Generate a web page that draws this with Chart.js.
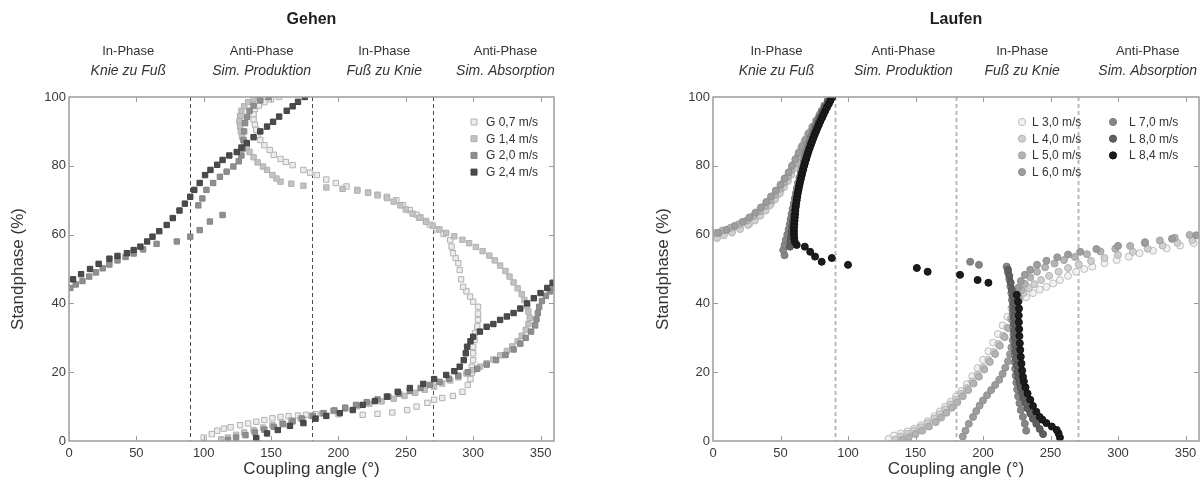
<!DOCTYPE html>
<html>
<head>
<meta charset="utf-8">
<script src="https://cdn.jsdelivr.net/npm/chart.js@4.4.0/dist/chart.umd.min.js"></script>
<style>
body{margin:0;background:#fff;}
#wrap{position:relative;width:1204px;height:492px;overflow:hidden;}
canvas{position:absolute;top:0;}
</style>
</head>
<body>
<div id="wrap">
<canvas id="gehen" width="602" height="492" style="left:0"></canvas>
<canvas id="laufen" width="602" height="492" style="left:602px"></canvas>
</div>
<script>
// achsen und phasen
var angleTicks = [0,50,100,150,200,250,300,350];
var stanceTicks = [0,20,40,60,80,100];
var phaseBorders = [90,180,270];
var phaseTop = ['In-Phase','Anti-Phase','In-Phase','Anti-Phase'];
var phaseSub = ['Knie zu Fuß','Sim. Produktion','Fuß zu Knie','Sim. Absorption'];

// Gehen: [coupling angle, standphase %]
var gehenLabels = ['G 0,7 m/s','G 1,4 m/s','G 2,0 m/s','G 2,4 m/s'];
var g07 = [[100,1],[106,2],[110,3],[115,3.6],[120,4],[127,4.6],[133,5.1],[139,5.6],[145,6.1],[151,6.6],[157,7],[163,7.2],[170,7.4],[176,7.6],[183,7.8],[200,7.8],[218,7.6],[229,7.9],[240,8.3],[251,9],[258,10],[266,11.1],[271,12],[277,12.5],[285,13.1],[292,14.3],[296,16.3],[298,18],[299,19.8],[299,21.6],[300,23.5],[300,25.5],[300,27.4],[301,29.4],[301.4,31.4],[303,33.3],[303.6,35.2],[303.6,37],[303.6,39],[300,40.5],[297.7,42],[295,43.5],[292.5,44.8],[291,47],[290,49.7],[289,51.7],[287,53.2],[285,54.6],[284,56.5],[283,58.4],[278,60.2],[273,61.5],[268,62.9],[265,64],[261,65],[258,65.8],[253,67.1],[248,68.6],[243,70],[236,71],[229,71.6],[222,72.2],[214,73],[206,74],[198,75],[191,76],[184,77.3],[179,78],[174,78.8],[166,80.2],[161,81.1],[157,82],[152,83.2],[149,84.6],[145,86],[142,87.5],[140,89],[139,90.5],[138,92],[137,93.5],[137,95],[138,96.5],[141,97.5],[145,98.5],[150,99.3],[156,100]];
var g14 = [[113,0.5],[118,1],[124,1.8],[130,2.5],[137,3.2],[144,3.9],[151,4.6],[158,5.3],[165,6],[172,6.6],[180,7.3],[188,8],[196,8.7],[205,9.4],[214,10.1],[223,10.8],[232,11.5],[241,12.3],[249,13.1],[257,14],[264,14.9],[271,15.8],[277,16.7],[283,17.6],[289,18.5],[295,19.6],[300,20.6],[305,21.6],[310,22.6],[315,23.7],[320,24.9],[325,26.2],[329,27.5],[333,29],[336,30.6],[339,32.3],[341,34],[342,35.8],[341,37.6],[340,39.3],[338,41],[336,42.7],[333,44.4],[330,46.1],[327,47.8],[324,49.4],[320,51],[316,52.5],[312,53.9],[307,55.2],[302,56.4],[297,57.5],[292,58.5],[286,59.5],[280,60.5],[275,61.5],[270,62.6],[265,63.7],[260,64.9],[255,66.1],[250,67.3],[246,68.5],[241,69.6],[236,70.6],[229,71.4],[222,72.2],[214,72.8],[203,73.3],[191,73.7],[174,74.2],[165,74.8],[157,75.4],[154,76.3],[151,77.3],[147,78.8],[144,79.8],[140,81],[137,82.5],[134,84],[132,85.5],[130,87],[128.5,88.5],[127.5,90],[127,91.5],[126.5,93],[127,94.5],[128,96],[130,97.3],[133,98.5],[137,99.5],[141,100]];
var g20 = [[118,0.3],[124,1],[131,1.7],[138,2.5],[145,3.3],[152,4.1],[159,4.9],[166,5.7],[173,6.5],[181,7.3],[189,8.1],[197,8.9],[205,9.7],[213,10.5],[221,11.3],[229,12.1],[237,12.9],[245,13.7],[253,14.5],[261,15.4],[268,16.3],[275,17.2],[282,18.1],[289,19],[296,20],[303,21],[310,22.2],[317,23.5],[324,25],[330,26.6],[335,28.3],[339,30],[343,31.8],[346,33.6],[347,35.4],[348,37.2],[349,39],[351,40.7],[354,42.2],[357,43.5],[360,44.5],[1,44.5],[5,45.5],[10,46.5],[15,47.8],[20,49],[25,50.2],[30,51.3],[36,52.5],[42,53.5],[48,54.5],[55,55.7],[65,57.3],[80,58],[90,59.4],[97,61.3],[104.6,63.8],[114,65.7],[96,68.5],[99,70.5],[102,73],[107,75],[112,76.8],[117,78.3],[122,79.8],[126,81.3],[128,83],[129,85],[129.5,87.5],[130,90],[130.7,92.4],[132,94.2],[134,96],[137,97.5],[142,99],[148,100]];
var g24 = [[139,0.8],[147,2.2],[155,3.2],[164,4.4],[174,5.2],[183,6.5],[191,7.3],[201,8.1],[210.6,9],[218,10.5],[227,11.6],[236,12.9],[244,14.3],[253,15.4],[263,16.6],[271,18],[280,19.2],[286,20.3],[290,21.6],[293,23.5],[294.5,25.5],[295.5,27.4],[298,29],[300,30.3],[305,31.8],[310,33.2],[315,34],[320,35.2],[325,36.2],[330,37.2],[335,38.5],[340,40],[345,41.5],[350,43],[355,44.5],[359,46],[3,47],[9,48.5],[15.6,50],[22,51.5],[30,53],[36,53.8],[43,54.6],[48,55.5],[53,56.5],[58,58],[62,59.4],[67,61],[72.5,62.8],[77,64.8],[82,67],[86,69],[90,71],[93,73],[97,75],[101,77.3],[105,78.8],[110,80.3],[114,81.7],[119,83],[124.5,84],[128,85.3],[132,86.6],[137,88.3],[142,90],[147,91.4],[151.5,92.8],[156,94.3],[161.6,96],[166,97.3],[170,98.6],[175,100]];

// Laufen
var laufenLabels = ['L 3,0 m/s','L 4,0 m/s','L 5,0 m/s','L 6,0 m/s','L 7,0 m/s','L 8,0 m/s','L 8,4 m/s'];
var l30 = [[130,0.6],[134,1.6],[139,2.2],[144,2.8],[149,3.6],[154,4.6],[159,5.8],[164,7.2],[168,8.6],[172,10],[176,11.4],[180,12.9],[184,14.5],[188,16.5],[192,18.8],[196,21.2],[200,23.6],[204,26.1],[207.5,28.6],[211,31.1],[214.5,33.6],[218,36.1],[221,38.5],[224,40.2],[227,40.8],[232,41.8],[237,43],[242,44],[247,44.8],[252,45.8],[257,46.8],[263,48],[269,49.2],[275,50],[281,50.7],[290,51.7],[299,52.6],[308,53.6],[316,54.6],[326,55.3],[336,56],[346,56.8],[356,57.5],[2,59.5],[8,60.4],[14,61],[20,62],[27,63.2],[31,64.5],[34.5,65.8],[37.5,67],[40,68],[43.5,69.5],[46.5,71],[50,73],[53,75],[55.8,77],[58.5,79],[61,81],[63,83],[65,85],[67.5,87],[70,89],[73,91],[76,93],[79,95],[82.5,97],[85.5,98.5],[88,100]];
var l40 = [[135,0.4],[139,1.3],[144,2.1],[149,3],[154,4],[159,5.2],[164,6.5],[168,7.8],[172,9.2],[176,10.6],[180,12.1],[184,13.7],[188,15.4],[192,17.3],[196,19.3],[200,21.4],[204,23.6],[208,25.9],[211.5,28.2],[215,30.6],[218,33],[220.5,35.5],[222.5,38],[224.5,40],[227,41.5],[230,43],[234,44.4],[238,45.6],[243,46.8],[249,48],[256,49.2],[263,50.3],[271,51.3],[280,52.3],[290,53.2],[300,54.1],[311,55],[322,55.9],[333,56.8],[344,57.6],[355,58.4],[3,59],[8,59.8],[14,60.6],[20,61.6],[26,62.8],[31,64.1],[35,65.5],[39,67],[42.5,68.6],[46,70.3],[49.5,72],[52.5,73.8],[55.5,75.6],[58,77.5],[60.5,79.4],[63,81.3],[65.5,83.2],[68,85.1],[70.5,87],[73,89],[75.5,91],[78,93],[81,95],[84,97],[86.5,98.6],[88,100]];
var l50 = [[140,0.3],[145,1.1],[150,2],[155,3],[160,4.2],[165,5.5],[169,6.8],[173,8.2],[177,9.7],[181,11.3],[185,13],[189,14.8],[193,16.7],[197,18.7],[201,20.8],[205,23],[209,25.3],[212.5,27.7],[216,30.2],[219,32.8],[221.5,35.4],[223.5,38],[225,40.3],[226.5,42],[228.5,43.8],[231,45.7],[235,47.6],[240,49.2],[246,50.5],[253,51.6],[260,52.6],[268,53.5],[277,54.3],[287,55.1],[298,55.9],[309,56.7],[320,57.5],[331,58.3],[342,59.1],[353,59.9],[2,60.5],[7,61.2],[13,62],[19,63],[25,64.1],[30,65.4],[34.5,66.8],[38.5,68.3],[42.5,69.9],[46,71.6],[49.5,73.3],[52.5,75.1],[55.5,76.9],[58,78.8],[60.5,80.7],[63,82.6],[65.5,84.5],[68,86.4],[70.5,88.3],[73,90.2],[76,92.1],[79,94],[82,96],[85,98],[88,100]];
var l60 = [[185,1.3],[187,3],[189.5,5],[192.6,7],[195,8.7],[197.5,10.3],[200,11.8],[203,13.3],[206,14.8],[209,16.3],[212,17.8],[214.5,19.5],[216.5,21.3],[218.5,23.2],[220,25.2],[221,27.2],[222,29.3],[223,31.4],[223.5,33.5],[224,35.6],[224,37.7],[224,39.8],[225,42],[226,44.5],[228,46.5],[231,48.3],[235,49.8],[240,51.2],[247,52.4],[255,53.4],[263,54.2],[272,55],[284,55.8],[300,56.7],[320,57.8],[340,58.8],[358,59.8],[4,60.5],[10,61.4],[16,62.5],[22,63.7],[27,65],[31.5,66.4],[35.5,67.9],[39.5,69.5],[43,71.1],[46.5,72.8],[50,74.5],[53,76.3],[56,78.1],[58.5,80],[61,81.9],[63.5,83.8],[66,85.7],[68.5,87.6],[71,89.5],[74,91.4],[77,93.3],[80,95.2],[83,97.1],[86,98.8],[88,100]];
var l70 = [[232,3],[231,5],[229.5,7],[228,9],[227,11],[226,13],[225.3,15],[224.7,17],[224.2,19],[223.8,21],[223.5,23],[223.2,25],[223,27],[222.8,29],[222.6,31],[222.4,33],[222.2,35],[222,37],[221.8,39],[221.5,41],[221,43],[220.3,45],[219.5,47],[218.5,49],[217.5,50.7],[197,51.2],[190.5,52.1],[53,54],[52,55.5],[53,57],[54,58.5],[55,60],[56,61.5],[56.8,63],[57.5,64.5],[58.2,66],[59,67.5],[59.8,69],[60.6,70.5],[61.4,72],[62.2,73.5],[63,75],[64,76.5],[65,78],[66,79.5],[67,81],[68,82.5],[69,84],[70.2,85.5],[71.4,87],[72.6,88.5],[74,90],[75.5,91.5],[77,93],[78.7,94.5],[80.5,96],[82.5,97.5],[85,99],[87.5,100]];
var l80 = [[244.5,2],[242,3.5],[239.5,5],[237,6.5],[235,8],[233,9.5],[231.5,11],[230,12.5],[229,14],[228,15.5],[227,17],[226.3,18.5],[225.6,20],[225,22],[224.5,24],[224,26],[223.7,28],[223.4,30],[223.2,32],[223,34],[222.8,36],[222.6,38],[222.4,40],[222,42],[221.3,44],[220.5,46],[219.5,48],[218.5,49.8],[57,56.5],[57.4,58],[57.8,59.5],[58.2,61],[58.7,62.5],[59.2,64],[59.8,65.5],[60.4,67],[61,68.5],[61.7,70],[62.4,71.5],[63.2,73],[64,74.5],[64.9,76],[65.8,77.5],[66.8,79],[67.8,80.5],[68.9,82],[70,83.5],[71.2,85],[72.4,86.5],[73.7,88],[75,89.5],[76.4,91],[77.9,92.5],[79.5,94],[81.2,95.5],[83,97],[85,98.5],[87.5,100]];
var l84 = [[257,1],[256,2.2],[254.6,3.2],[251,4.2],[247,5.2],[244,6.2],[242,7],[239.5,8.5],[237,10.2],[235,12],[233,13.8],[231.5,15.6],[230.3,17.3],[229.6,18.7],[229,20.5],[228.5,22.5],[228,24.5],[227.6,26.5],[227.3,28.4],[227,30.5],[226.8,32.5],[226.6,34.5],[226.5,36.5],[226.7,38.5],[226,40.5],[225,42.5],[204,46],[196,46.8],[183,48.3],[159,49.2],[151,50.3],[100,51.2],[88,53.2],[80.5,52.1],[75.6,53.6],[72,55],[68,56.5],[62,57],[60.5,58],[60.2,59],[60,60],[60,61],[60,62],[60.2,63],[60.4,64],[60.6,65],[60.8,66],[61,67],[61.3,68],[61.6,69],[62,70],[62.4,71],[62.8,72],[63.3,73],[63.8,74],[64.3,75],[64.9,76],[65.5,77],[66.1,78],[66.8,79],[67.5,80],[68.2,81],[69,82],[69.8,83],[70.6,84],[71.5,85],[72.4,86],[73.3,87],[74.3,88],[75.3,89],[76.3,90],[77.4,91],[78.5,92],[79.6,93],[80.8,94],[82,95],[83.2,96],[84.5,97],[85.8,98],[87,99],[88.3,100]];

var gehenSeries = [g07,g14,g20,g24];
var laufenSeries = [l30,l40,l50,l60,l70,l80,l84];
var gehenFill = ['#ededed','#c3c3c3','#8f8f8f','#4b4b4b'];
var gehenLine = ['#b2b2b2','#b0b0b0','#858585','#424242'];
var laufenFill = ['#f2f2f2','#d0d0d0','#b4b4b4','#9d9d9d','#868686','#5f5f5f','#1c1c1c'];
var laufenLine = ['#bcbcbc','#b3b3b3','#a2a2a2','#8f8f8f','#797979','#545454','#111111'];

var font = '"Liberation Sans", Arial, sans-serif';

function toPoints(arr){
    return arr.map(function(p){ return {x:p[0], y:p[1]}; });
}

function makeSets(series, labels, fill, line, style, radius){
    var n = series.length;
    return series.map(function(s,i){
        return {
            label: labels[i],
            data: toPoints(s),
            pointStyle: style,
            pointRadius: radius,
            pointBorderWidth: 1,
            backgroundColor: fill[i],
            borderColor: line[i],
            showLine: false,
            order: n - i   // dunklere Reihen oben
        };
    });
}

// rahmen, phasenlinien, titel und legende
var frame = {
    id: 'frame',
    beforeDatasetsDraw: function(chart, args, o){
        var ctx = chart.ctx, a = chart.chartArea, x = chart.scales.x;
        ctx.save();
        ctx.strokeStyle = o.dashColor;
        ctx.lineWidth = o.dashWidth;
        ctx.setLineDash(o.dash);
        phaseBorders.forEach(function(v){
            var px = Math.round(x.getPixelForValue(v)) + 0.5;
            ctx.beginPath(); ctx.moveTo(px, a.top); ctx.lineTo(px, a.bottom); ctx.stroke();
        });
        ctx.restore();
    },
    afterDraw: function(chart, args, o){
        var ctx = chart.ctx, a = chart.chartArea, x = chart.scales.x, y = chart.scales.y;
        ctx.save();
        ctx.strokeStyle = '#9c9c9c';
        ctx.lineWidth = 1.5;
        ctx.strokeRect(a.left, a.top, a.right - a.left, a.bottom - a.top);
        ctx.lineWidth = 1;
        ctx.beginPath();
        angleTicks.forEach(function(v){
            if (v === 0) return;
            var px = Math.round(x.getPixelForValue(v)) + 0.5;
            ctx.moveTo(px, a.top); ctx.lineTo(px, a.top + 5);
            ctx.moveTo(px, a.bottom); ctx.lineTo(px, a.bottom - 5);
        });
        stanceTicks.forEach(function(v){
            if (v === 0 || v === 100) return;
            var py = Math.round(y.getPixelForValue(v)) + 0.5;
            ctx.moveTo(a.left, py); ctx.lineTo(a.left + 5, py);
            ctx.moveTo(a.right, py); ctx.lineTo(a.right - 5, py);
        });
        ctx.stroke();

        // titel
        ctx.fillStyle = '#1e1e1e';
        ctx.textAlign = 'center';
        ctx.textBaseline = 'middle';
        ctx.font = 'bold 16px ' + font;
        ctx.fillText(o.title, x.getPixelForValue(180), 20);

        // phasen
        ctx.fillStyle = '#333';
        o.phaseAt.forEach(function(v,i){
            var px = x.getPixelForValue(v);
            ctx.font = '13px ' + font;
            ctx.fillText(phaseTop[i], px, 51);
            ctx.font = 'italic 14px ' + font;
            ctx.fillText(phaseSub[i], px, 71);
        });

        // legende
        var sets = chart.data.datasets;
        ctx.textAlign = 'left';
        ctx.font = '12px ' + font;
        sets.forEach(function(ds,i){
            var col = Math.floor(i / o.perColumn), row = i % o.perColumn;
            var cy = o.legendTop + row * o.rowHeight;
            var cx = o.markerX[col];
            ctx.fillStyle = ds.backgroundColor;
            ctx.strokeStyle = ds.borderColor;
            ctx.beginPath();
            if (ds.pointStyle === 'rect') {
                ctx.rect(cx - 3, cy - 3, 6, 6);
            } else {
                ctx.arc(cx, cy, 3.6, 0, Math.PI * 2);
            }
            ctx.fill(); ctx.stroke();
            ctx.fillStyle = '#333';
            ctx.fillText(ds.label, o.textX[col], cy + 0.5);
        });
        ctx.restore();
    }
};

function baseOptions(yTitlePad, yWidth, pad){
    return {
        responsive: false,
        animation: false,
        devicePixelRatio: 1,
        layout: { padding: pad },
        plugins: { legend: { display: false }, tooltip: { enabled: false } },
        scales: {
            x: {
                type: 'linear', min: 0, max: 360,
                afterBuildTicks: function(s){ s.ticks = angleTicks.map(function(v){ return {value:v}; }); },
                afterFit: function(s){ s.height = 51; },
                grid: { display: false, drawTicks: false },
                border: { display: false },
                ticks: { color: '#3a3a3a', padding: 5, font: { family: font, size: 13 } },
                title: { display: true, text: 'Coupling angle (°)', color: '#333',
                         padding: { top: 0, bottom: 12 }, font: { family: font, size: 17 } }
            },
            y: {
                type: 'linear', min: 0, max: 100,
                afterBuildTicks: function(s){ s.ticks = stanceTicks.map(function(v){ return {value:v}; }); },
                afterFit: function(s){ s.width = yWidth; },
                grid: { display: false, drawTicks: false },
                border: { display: false },
                ticks: { color: '#3a3a3a', padding: 3, font: { family: font, size: 13 } },
                title: { display: true, text: 'Standphase (%)', color: '#333',
                         padding: { top: yTitlePad, bottom: 0 }, font: { family: font, size: 17 } }
            }
        }
    };
}

var optG = baseOptions(8, 69, { top: 97, right: 48, bottom: 0, left: 0 });
optG.plugins.frame = {
    title: 'Gehen', dash: [4,3], dashColor: '#4a4a4a', dashWidth: 1,
    phaseAt: [44,143,234,324],
    legendTop: 122, rowHeight: 16.7, perColumn: 4, markerX: [474], textX: [486]
};
new Chart(document.getElementById('gehen'), {
    type: 'scatter',
    data: { datasets: makeSets(gehenSeries, gehenLabels, gehenFill, gehenLine, 'rect', 3.8) },
    options: optG,
    plugins: [frame]
});

var optL = baseOptions(0, 60, { top: 97, right: 5, bottom: 0, left: 51 });
optL.plugins.frame = {
    title: 'Laufen', dash: [4,3], dashColor: '#b9b9b9', dashWidth: 2,
    phaseAt: [47,141,229,322],
    legendTop: 122, rowHeight: 16.7, perColumn: 4, markerX: [420, 511], textX: [430, 527]
};
new Chart(document.getElementById('laufen'), {
    type: 'scatter',
    data: { datasets: makeSets(laufenSeries, laufenLabels, laufenFill, laufenLine, 'circle', 3.5) },
    options: optL,
    plugins: [frame]
});
</script>
</body>
</html>
